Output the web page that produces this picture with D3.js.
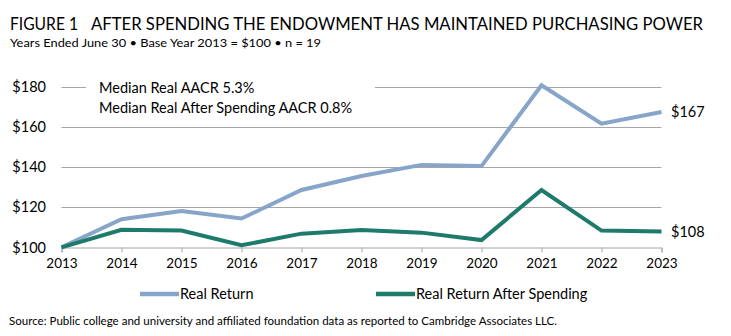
<!DOCTYPE html>
<html><head><meta charset="utf-8">
<script src="https://cdn.jsdelivr.net/npm/d3@7"></script>
<style>
html,body{margin:0;padding:0;background:#fff;}
svg{display:block;}
text{font-family:Lato,"Open Sans",sans-serif;fill:#000;}
</style></head>
<body>
<svg id="chart" width="731" height="336"></svg>
<script>
const years = [2013,2014,2015,2016,2017,2018,2019,2020,2021,2022,2023];
const realReturn = [100,114,118,114.3,128.5,135.5,141,140.4,180.6,161.5,167.3];
const realAfterSpending = [100,108.7,108.3,101,106.8,108.6,107.3,103.6,128.5,108.3,107.9];
const yTicks = [100,120,140,160,180];
const seriesNames = ["Real Return","Real Return After Spending"];
const colors = ["#87a4c9","#1e7a6b"];
const endLabels = ["$167","$108"];
const notes = ["Median Real AACR 5.3%","Median Real After Spending AACR 0.8%"];
const titleParts = ["FIGURE 1","AFTER SPENDING THE ENDOWMENT HAS MAINTAINED PURCHASING POWER"];
const subtitle = "Years Ended June 30 \u2022 Base Year 2013 = $100 \u2022 n = 19";
const source = "Source: Public college and university and affiliated foundation data as reported to Cambridge Associates LLC.";

const svg = d3.select("#chart");
const x = d3.scalePoint().domain(years).range([61.5, 661.5]);
const y = d3.scaleLinear().domain([100,180]).range([247.3, 86.5]);

// Title
const tX = [10, 91], tW = [68, 612];
svg.selectAll("text.title").data(titleParts).join("text")
  .attr("class","title")
  .attr("x",(d,i)=>tX[i]).attr("y",29.5)
  .attr("font-family","'Open Sans',sans-serif").attr("font-size",16.5)
  .attr("textLength",(d,i)=>tW[i]).attr("lengthAdjust","spacingAndGlyphs")
  .text(d=>d);
svg.append("text").attr("x",10).attr("y",47)
  .attr("font-family","'Open Sans',sans-serif").attr("font-size",11.5)
  .attr("textLength",311).attr("lengthAdjust","spacingAndGlyphs")
  .text(subtitle);

// gridlines
const g = svg.append("g");
g.selectAll("line.grid").data(yTicks.filter(d=>d>100)).join("line")
  .attr("class","grid")
  .attr("x1",x(2013)).attr("x2",x(2023))
  .attr("y1",d=>Math.round(y(d))+0.5).attr("y2",d=>Math.round(y(d))+0.5)
  .attr("stroke","#a6a6a6").attr("stroke-width",1);

// y labels
g.selectAll("text.ylab").data(yTicks).join("text")
  .attr("class","ylab")
  .attr("x",46).attr("y",d=>y(d)).attr("dy","0.36em")
  .attr("text-anchor","end").attr("font-size",14.5)
  .text(d=>"$"+d);

// x axis
const xAxis = d3.axisBottom(x).tickSize(5).tickPadding(6).tickFormat(d3.format("d"));
const ax = svg.append("g").attr("transform",`translate(0,${Math.round(y(100))+0.5})`).call(xAxis);
ax.select(".domain").attr("stroke","#a6a6a6");
ax.selectAll(".tick line").attr("stroke","#a6a6a6");
ax.selectAll(".tick text").attr("font-size",13.5).attr("font-family","Lato,sans-serif").attr("fill","#000");

// annotation box (white background covers gridline)
svg.append("rect").attr("x",86).attr("y",76).attr("width",289).attr("height",44).attr("fill","#fff");
svg.selectAll("text.note").data(notes).join("text")
  .attr("class","note")
  .attr("x",99).attr("y",(d,i)=>93+i*20)
  .attr("font-size",14.5)
  .text(d=>d);

// lines
const line = d3.line().x((d,i)=>x(years[i])).y(d=>y(d));
const data = [realReturn, realAfterSpending];
svg.selectAll("path.series").data(data).join("path")
  .attr("class","series")
  .attr("d",d=>line(d))
  .attr("fill","none")
  .attr("stroke",(d,i)=>colors[i])
  .attr("stroke-width",4)
  .attr("stroke-linejoin","miter");

// end labels
svg.selectAll("text.end").data(data).join("text")
  .attr("class","end")
  .attr("x",671).attr("y",d=>y(d[d.length-1])).attr("dy","0.36em")
  .attr("font-size",14.5)
  .text((d,i)=>endLabels[i]);

// legend
const legX = [140,376];
const leg = svg.selectAll("g.leg").data(seriesNames).join("g").attr("class","leg")
  .attr("transform",(d,i)=>`translate(${legX[i]},294)`);
leg.append("line").attr("x1",0).attr("x2",39).attr("y1",0).attr("y2",0)
  .attr("stroke",(d,i)=>colors[i]).attr("stroke-width",4.5);
leg.append("text").attr("x",40).attr("y",0).attr("dy","0.36em")
  .attr("font-size",14.5).text(d=>d);

// source
svg.append("text").attr("x",9).attr("y",325)
  .attr("font-size",10.5)
  .attr("textLength",548).attr("lengthAdjust","spacingAndGlyphs")
  .text(source);
</script>
</body></html>
